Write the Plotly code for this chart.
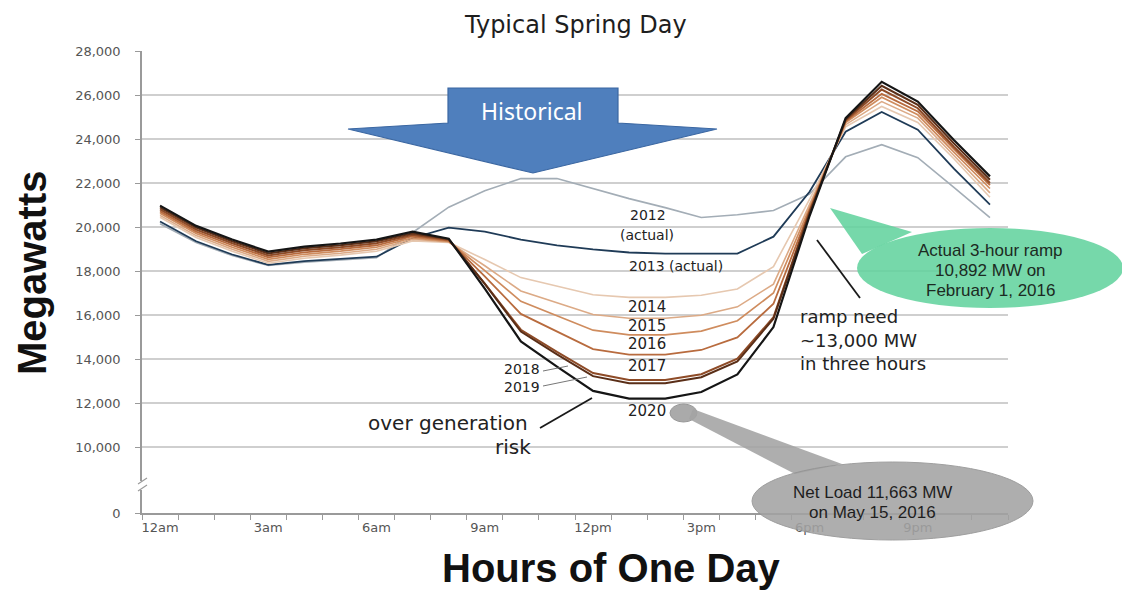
import plotly.graph_objects as go

# ---------------------------------------------------------------------------
# Net load on a typical spring day (MW), hourly, 12am .. 11pm
# ---------------------------------------------------------------------------
HOURS = list(range(24))
HOUR_TICKS = [0, 3, 6, 9, 12, 15, 18, 21]
HOUR_LABELS = ["12am", "3am", "6am", "9am", "12pm", "3pm", "6pm", "9pm"]

# y axis is broken below 10,000: the "0" label sits at the bottom edge (7,000)
Y_TICK_VALS = [7000, 10000, 12000, 14000, 16000, 18000, 20000, 22000, 24000, 26000, 28000]
Y_TICK_TEXT = ["0", "10,000", "12,000", "14,000", "16,000", "18,000",
               "20,000", "22,000", "24,000", "26,000", "28,000"]

LOAD_2012 = [20150, 19300, 18700, 18250, 18400, 18500, 18600, 19750, 20900, 21650, 22200, 22200,
             21740, 21290, 20880, 20430, 20560, 20750, 21500, 23190, 23740, 23150, 21800, 20430]
LOAD_2013 = [20250, 19350, 18750, 18280, 18450, 18550, 18650, 19500, 19970, 19790, 19430, 19160,
             18980, 18840, 18790, 18790, 18790, 19560, 21600, 24330, 25230, 24420, 22650, 21020]
LOAD_2014 = [20440, 19520, 18900, 18350, 18580, 18720, 18900, 19370, 19300, 18520, 17700, 17300,
             16920, 16800, 16800, 16900, 17180, 18200, 21250, 24550, 25480, 24750, 23100, 21350]
LOAD_2015 = [20530, 19610, 18990, 18440, 18670, 18810, 18990, 19440, 19320, 18240, 17090, 16540,
             16020, 15850, 15850, 15990, 16370, 17400, 21050, 24650, 25700, 24950, 23250, 21550]
LOAD_2016 = [20620, 19700, 19080, 18530, 18760, 18900, 19080, 19510, 19350, 18020, 16620, 15950,
             15310, 15100, 15100, 15270, 15740, 17000, 20850, 24750, 25900, 25100, 23400, 21750]
LOAD_2017 = [20710, 19790, 19170, 18620, 18850, 18990, 19170, 19580, 19380, 17760, 16050, 15240,
             14450, 14200, 14200, 14410, 14980, 16510, 20750, 24800, 26050, 25250, 23550, 21900]
LOAD_2018 = [20800, 19880, 19260, 18710, 18940, 19080, 19260, 19650, 19420, 17430, 15330, 14320,
             13360, 13050, 13050, 13310, 14010, 15900, 20700, 24850, 26250, 25400, 23650, 22000]
LOAD_2019 = [20890, 19970, 19350, 18800, 19030, 19170, 19350, 19720, 19450, 17410, 15245, 14210,
             13220, 12900, 12900, 13170, 13890, 15830, 20600, 24900, 26420, 25550, 23800, 22150]
LOAD_2020 = [20970, 20050, 19430, 18880, 19110, 19250, 19430, 19790, 19470, 17200, 14800, 13650,
             12550, 12200, 12200, 12500, 13300, 15450, 20500, 24950, 26600, 25700, 23950, 22300]

SERIES = [
    ("2012", LOAD_2012, "#a3adb6", 1.6),
    ("2013", LOAD_2013, "#1f3b57", 1.8),
    ("2014", LOAD_2014, "#e6c8b0", 1.6),
    ("2015", LOAD_2015, "#dcaa86", 1.6),
    ("2016", LOAD_2016, "#cf8c5e", 1.7),
    ("2017", LOAD_2017, "#b86b3e", 1.8),
    ("2018", LOAD_2018, "#8e4b27", 2.0),
    ("2019", LOAD_2019, "#5a2e17", 2.0),
    ("2020", LOAD_2020, "#151515", 2.2),
]

# ---------------------------------------------------------------------------
W, H = 1122, 593
L, R, T, B = 142, 1008, 51, 513          # plot area edges in pixels
PW, PH = R - L, B - T


def P(x, y):
    """pixel position -> paper coordinates"""
    return (x - L) / PW, (B - y) / PH


fig = go.Figure()
for name, vals, color, width in SERIES:
    fig.add_trace(go.Scatter(x=HOURS, y=vals, mode="lines", name=name,
                             line=dict(color=color, width=width),
                             showlegend=False, hoverinfo="skip"))

shapes = []
annotations = []


def add_line(x0, y0, x1, y1, color="#222", width=1.6):
    a, b = P(x0, y0)
    c, d = P(x1, y1)
    shapes.append(dict(type="line", xref="paper", yref="paper", x0=a, y0=b, x1=c, y1=d,
                       line=dict(color=color, width=width), layer="above"))


def add_poly(points, fill, edge, width=1.0, opacity=1.0):
    parts = []
    for i, (x, y) in enumerate(points):
        px, py = P(x, y)
        parts.append(("M" if i == 0 else "L") + f"{px:.5f},{py:.5f}")
    shapes.append(dict(type="path", xref="paper", yref="paper", path=" ".join(parts) + " Z",
                       fillcolor=fill, line=dict(color=edge, width=width),
                       opacity=opacity, layer="above"))


def add_ellipse(x0, y0, x1, y1, fill, edge, width=1.0, opacity=1.0):
    a, b = P(x0, y1)
    c, d = P(x1, y0)
    shapes.append(dict(type="circle", xref="paper", yref="paper", x0=a, y0=b, x1=c, y1=d,
                       fillcolor=fill, line=dict(color=edge, width=width),
                       opacity=opacity, layer="above"))


def add_text(x, y, text, size, color="#222", family="DejaVu Sans", xanchor="center",
             angle=0, bold=False, align="center"):
    px, py = P(x, y)
    if bold:
        text = f"<b>{text}</b>"
    annotations.append(dict(x=px, y=py, xref="paper", yref="paper", text=text,
                            showarrow=False, xanchor=xanchor, yanchor="middle",
                            align=align, textangle=angle,
                            font=dict(size=size, color=color, family=family)))


# "Historical" block arrow
add_poly([(448, 88), (618, 88), (618, 123), (717, 129), (533, 173), (348, 129), (448, 123)],
         fill="#4f7fbd", edge="#3b67a2", width=1.2)
add_text(532, 111, "Historical", 23, color="white", family="Noto Sans")

# axis break mark on the y axis
add_poly([(137, 481), (148, 481), (148, 490), (137, 490)], fill="white", edge="white", width=0)
add_line(138, 484, 147, 478, color="#9a9a9a", width=1.2)
add_line(138, 491, 147, 485, color="#9a9a9a", width=1.2)

# year labels next to the curves
add_text(648, 215, "2012", 14)
add_text(647, 235, "(actual)", 14)
add_text(676, 266, "2013 (actual)", 14)
add_text(647, 307, "2014", 15)
add_text(647, 326, "2015", 15)
add_text(647, 344, "2016", 15)
add_text(647, 366, "2017", 15)
add_text(647, 411, "2020", 15)
add_text(542, 378, "2018<br>2019", 14, xanchor="right", align="right")
add_line(543, 371, 568, 366, color="#777", width=1)
add_line(543, 386, 587, 377, color="#777", width=1)

# over generation risk
add_text(448, 423, "over generation", 20)
add_text(513, 447, "risk", 20)
add_line(540, 428, 592, 398, color="#1a1a1a", width=1.8)

# ramp need
add_text(798, 316, "ramp need", 18, xanchor="left")
add_text(798, 340, "~13,000 MW", 18, xanchor="left")
add_text(798, 363, "in three hours", 18, xanchor="left")
add_line(817, 240, 860, 298, color="#1a1a1a", width=1.8)

# green callout: actual 3-hour ramp
add_poly([(830, 208), (912, 232), (862, 254)], fill="#63d39e", edge="#63d39e", width=0, opacity=0.88)
add_ellipse(857, 228, 1123, 308, fill="#63d39e", edge="#63d39e", width=0, opacity=0.88)
add_text(990, 250, "Actual 3-hour ramp", 17, color="#1c2a22", family="Liberation Sans")
add_text(990, 270, "10,892 MW on", 17, color="#1c2a22", family="Liberation Sans")
add_text(990, 290, "February 1, 2016", 17, color="#1c2a22", family="Liberation Sans")

# gray callout: minimum net load
add_ellipse(670, 404, 697, 422, fill="#a3a3a3", edge="#909090", width=1, opacity=0.92)
add_poly([(693, 409), (842, 464), (795, 474), (689, 419)], fill="#a3a3a3", edge="#a3a3a3",
         width=0, opacity=0.88)
add_ellipse(752, 462, 1033, 540, fill="#a3a3a3", edge="#929292", width=1, opacity=0.88)
add_text(872, 492, "Net Load 11,663 MW", 17, color="#1e1e1e", family="Liberation Sans")
add_text(872, 512, "on May 15, 2016", 17, color="#1e1e1e", family="Liberation Sans")

# titles
add_text(575, 25, "Typical Spring Day", 24, color="#1e1e1e", family="DejaVu Sans")
add_text(32, 272, "Megawatts", 40, color="#111", family="Liberation Sans", angle=-90, bold=True)
add_text(611, 568, "Hours of One Day", 40, color="#111", family="Liberation Sans", bold=True)

fig.update_layout(
    width=W, height=H, autosize=False,
    margin=dict(l=L, r=W - R, t=T, b=H - B, pad=0),
    paper_bgcolor="white", plot_bgcolor="white",
    shapes=shapes, annotations=annotations,
    showlegend=False,
)
fig.update_xaxes(
    range=[-0.5, 23.5], tickvals=HOUR_TICKS, ticktext=HOUR_LABELS,
    ticks="", showgrid=False, zeroline=False,
    showline=True, linecolor="#9a9a9a", linewidth=1.5,
    tickfont=dict(family="DejaVu Sans", size=13, color="#555"),
    minor=dict(tickvals=[h - 0.5 for h in range(25)], ticks="outside", ticklen=5,
               tickcolor="#9a9a9a", tickwidth=1.2, showgrid=False),
    ticklabelstandoff=2,
)
fig.update_yaxes(
    range=[7000, 28000], tickvals=Y_TICK_VALS, ticktext=Y_TICK_TEXT,
    ticks="outside", ticklen=5, tickcolor="#9a9a9a", tickwidth=1.2,
    showgrid=True, gridcolor="#cfcfcf", gridwidth=1.5, zeroline=False,
    showline=True, linecolor="#9a9a9a", linewidth=1.5,
    tickfont=dict(family="DejaVu Sans", size=13, color="#555"),
    ticklabelstandoff=12,
)

fig.write_html("out.html")
